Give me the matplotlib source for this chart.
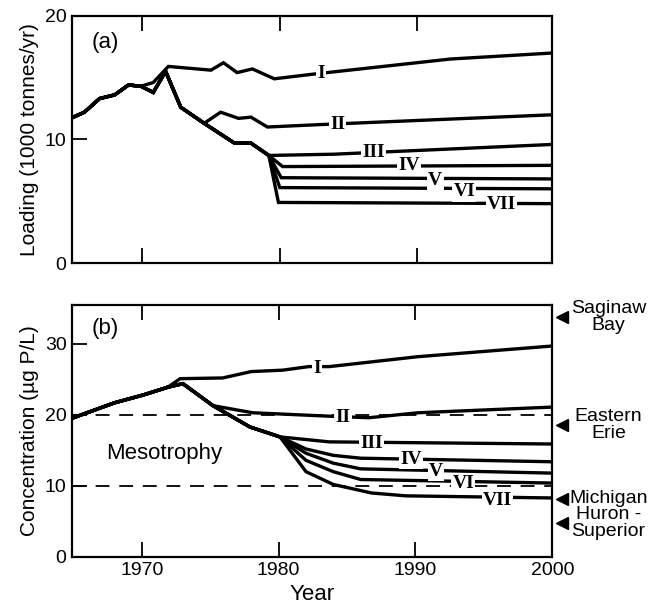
import matplotlib
matplotlib.use("Agg")
import matplotlib.pyplot as plt

plt.rcParams['font.family'] = ['Liberation Sans', 'DejaVu Sans']
plt.rcParams['lines.scale_dashes'] = False

# ---- panel (a): loading, 1000 tonnes/yr ----
hist_x_a = [1965, 1965.8, 1966.9, 1968, 1969, 1969.9]
hist_y_a = [11.8, 12.2, 13.3, 13.6, 14.4, 14.3]
i_x_a = [1970.8, 1971.9, 1975, 1975.9, 1976.9, 1978, 1979.6, 1982.6, 1992.4, 2000]
i_y_a = [14.6, 15.9, 15.6, 16.2, 15.4, 15.7, 14.9, 15.3, 16.5, 17.0]
low_x_a = [1970.8, 1971.7, 1972.8, 1974.5]
low_y_a = [13.8, 15.5, 12.6, 11.3]
ii_x_a = [1975.7, 1977, 1977.9, 1979.1, 1983, 2000]
ii_y_a = [12.2, 11.7, 11.8, 11.0, 11.2, 12.0]
cut_x_a = [1976.7, 1977.9, 1979.2]
cut_y_a = [9.7, 9.7, 8.7]
tail_x_a = {'III': [1983.9, 2000], 'IV': [1980.2, 2000], 'V': [1980.1, 2000],
            'VI': [1980.0, 2000], 'VII': [1979.9, 2000]}
tail_y_a = {'III': [8.8, 9.6], 'IV': [7.8, 7.9], 'V': [6.9, 6.8],
            'VI': [6.1, 6.0], 'VII': [4.9, 4.8]}
label_pos_a = {'I': (1983.0, 15.3), 'II': (1984.2, 11.2), 'III': (1986.8, 8.9),
               'IV': (1989.4, 7.85), 'V': (1991.3, 6.7), 'VI': (1993.4, 5.75),
               'VII': (1996.1, 4.7)}

# ---- panel (b): concentration, ug P/L ----
hist_x_b = [1965, 1968, 1970.1, 1971.9]
hist_y_b = [19.6, 21.7, 22.8, 23.9]
i_x_b = [1972.8, 1975.9, 1978, 1980.3, 1982.2, 1983.7, 1990.2, 2000]
i_y_b = [25.1, 25.2, 26.1, 26.3, 26.8, 26.8, 28.2, 29.7]
low_x_b = [1973, 1975.2]
low_y_b = [24.4, 21.3]
ii_x_b = [1978.1, 1983.9, 1986.6, 1990.2, 2000]
ii_y_b = [20.3, 19.8, 19.6, 20.3, 21.1]
cut_x_b = [1977.9, 1980.1]
cut_y_b = [18.3, 16.9]
tail_x_b = {'III': [1983.7, 2000], 'IV': [1982, 1984, 1986, 2000],
            'V': [1982, 1984, 1986, 2000], 'VI': [1982, 1984, 1986, 2000],
            'VII': [1982, 1984, 1986.8, 1989.3, 2000]}
tail_y_b = {'III': [16.2, 15.9], 'IV': [15.2, 14.3, 13.9, 13.4],
            'V': [14.6, 13.2, 12.4, 11.8], 'VI': [13.6, 12.0, 10.9, 10.4],
            'VII': [12.0, 10.2, 9.0, 8.6, 8.3]}
label_pos_b = {'I': (1982.8, 26.6), 'II': (1984.7, 19.7), 'III': (1986.8, 16.0),
               'IV': (1989.7, 13.7), 'V': (1991.5, 12.0), 'VI': (1993.5, 10.4),
               'VII': (1996.0, 7.9)}

trophic_levels = [20, 10]
lakes = ['Saginaw\nBay', 'Eastern\nErie', 'Michigan', 'Huron -\nSuperior']
lake_values = [33.8, 18.6, 8.2, 4.8]

years_ticks = [1970, 1980, 1990, 2000]
LW = 2.4


def scenario_lines(hx, hy, ix, iy, lx, ly, iix, iiy, cx, cy, tx, ty):
    lines = {}
    lines['I'] = (hx + ix, hy + iy)
    lines['II'] = (hx + lx + iix, hy + ly + iiy)
    for k in ['III', 'IV', 'V', 'VI', 'VII']:
        lines[k] = (hx + lx + cx + tx[k], hy + ly + cy + ty[k])
    return lines


def style_axes(ax, ymax, yticks):
    ax.set_xlim(1964.9, 1999.8)
    ax.set_ylim(0, ymax)
    ax.set_yticks(yticks)
    ax.set_xticks(years_ticks[:3])
    ax.tick_params(direction='in', length=11, width=1.3, top=True, right=False,
                   labelsize=14, pad=4)
    for s in ax.spines.values():
        s.set_linewidth(1.6)


fig = plt.figure(figsize=(6.67, 6.06), dpi=100)
ax1 = fig.add_axes([0.108, 0.566, 0.720, 0.408])
ax2 = fig.add_axes([0.108, 0.081, 0.720, 0.416])

lines_a = scenario_lines(hist_x_a, hist_y_a, i_x_a, i_y_a, low_x_a, low_y_a,
                         ii_x_a, ii_y_a, cut_x_a, cut_y_a, tail_x_a, tail_y_a)
lines_b = scenario_lines(hist_x_b, hist_y_b, i_x_b, i_y_b, low_x_b, low_y_b,
                         ii_x_b, ii_y_b, cut_x_b, cut_y_b, tail_x_b, tail_y_b)

for ax, lines, labels in [(ax1, lines_a, label_pos_a), (ax2, lines_b, label_pos_b)]:
    for k, (x, y) in lines.items():
        ax.plot(x, y, color='black', lw=LW, solid_joinstyle='miter', zorder=3)
    for k, (x, y) in labels.items():
        ax.text(x, y, k, family=['Liberation Serif', 'DejaVu Serif'], fontsize=14,
                fontweight='bold', ha='center', va='center', zorder=5,
                bbox=dict(facecolor='white', edgecolor='none', pad=0.8))

for lev in trophic_levels:
    ax2.plot([1964.9, 2000], [lev, lev], color='black', lw=1.3,
             dashes=(10, 7), zorder=2)

ax2.text(1967.4, 14.6, 'Mesotrophy', fontsize=16, ha='left', va='center')

style_axes(ax1, 20, [0, 10, 20])
style_axes(ax2, 35.5, [0, 10, 20, 30])
ax1.set_xticklabels([])
ax2.set_xticks(years_ticks)
ax2.set_xticklabels([str(y) for y in years_ticks])

ax1.text(0.041, 0.89, '(a)', transform=ax1.transAxes, fontsize=16,
         ha='left', va='center')
ax2.text(0.041, 0.905, '(b)', transform=ax2.transAxes, fontsize=16,
         ha='left', va='center')

ax1.set_ylabel('Loading (1000 tonnes/yr)', fontsize=15, labelpad=4)
ax2.set_ylabel('Concentration (\u00b5g P/L)', fontsize=15, labelpad=4)
ax2.set_xlabel('Year', fontsize=16, labelpad=3)

for name, v in zip(lakes, lake_values):
    ax2.plot([2000.7], [v], marker='<', color='black', markersize=9,
             clip_on=False, zorder=6)
    ax2.text(2004.1, v, name, fontsize=14, ha='center', va='center',
             linespacing=0.95, clip_on=False)

fig.savefig('out.png', dpi=100)
